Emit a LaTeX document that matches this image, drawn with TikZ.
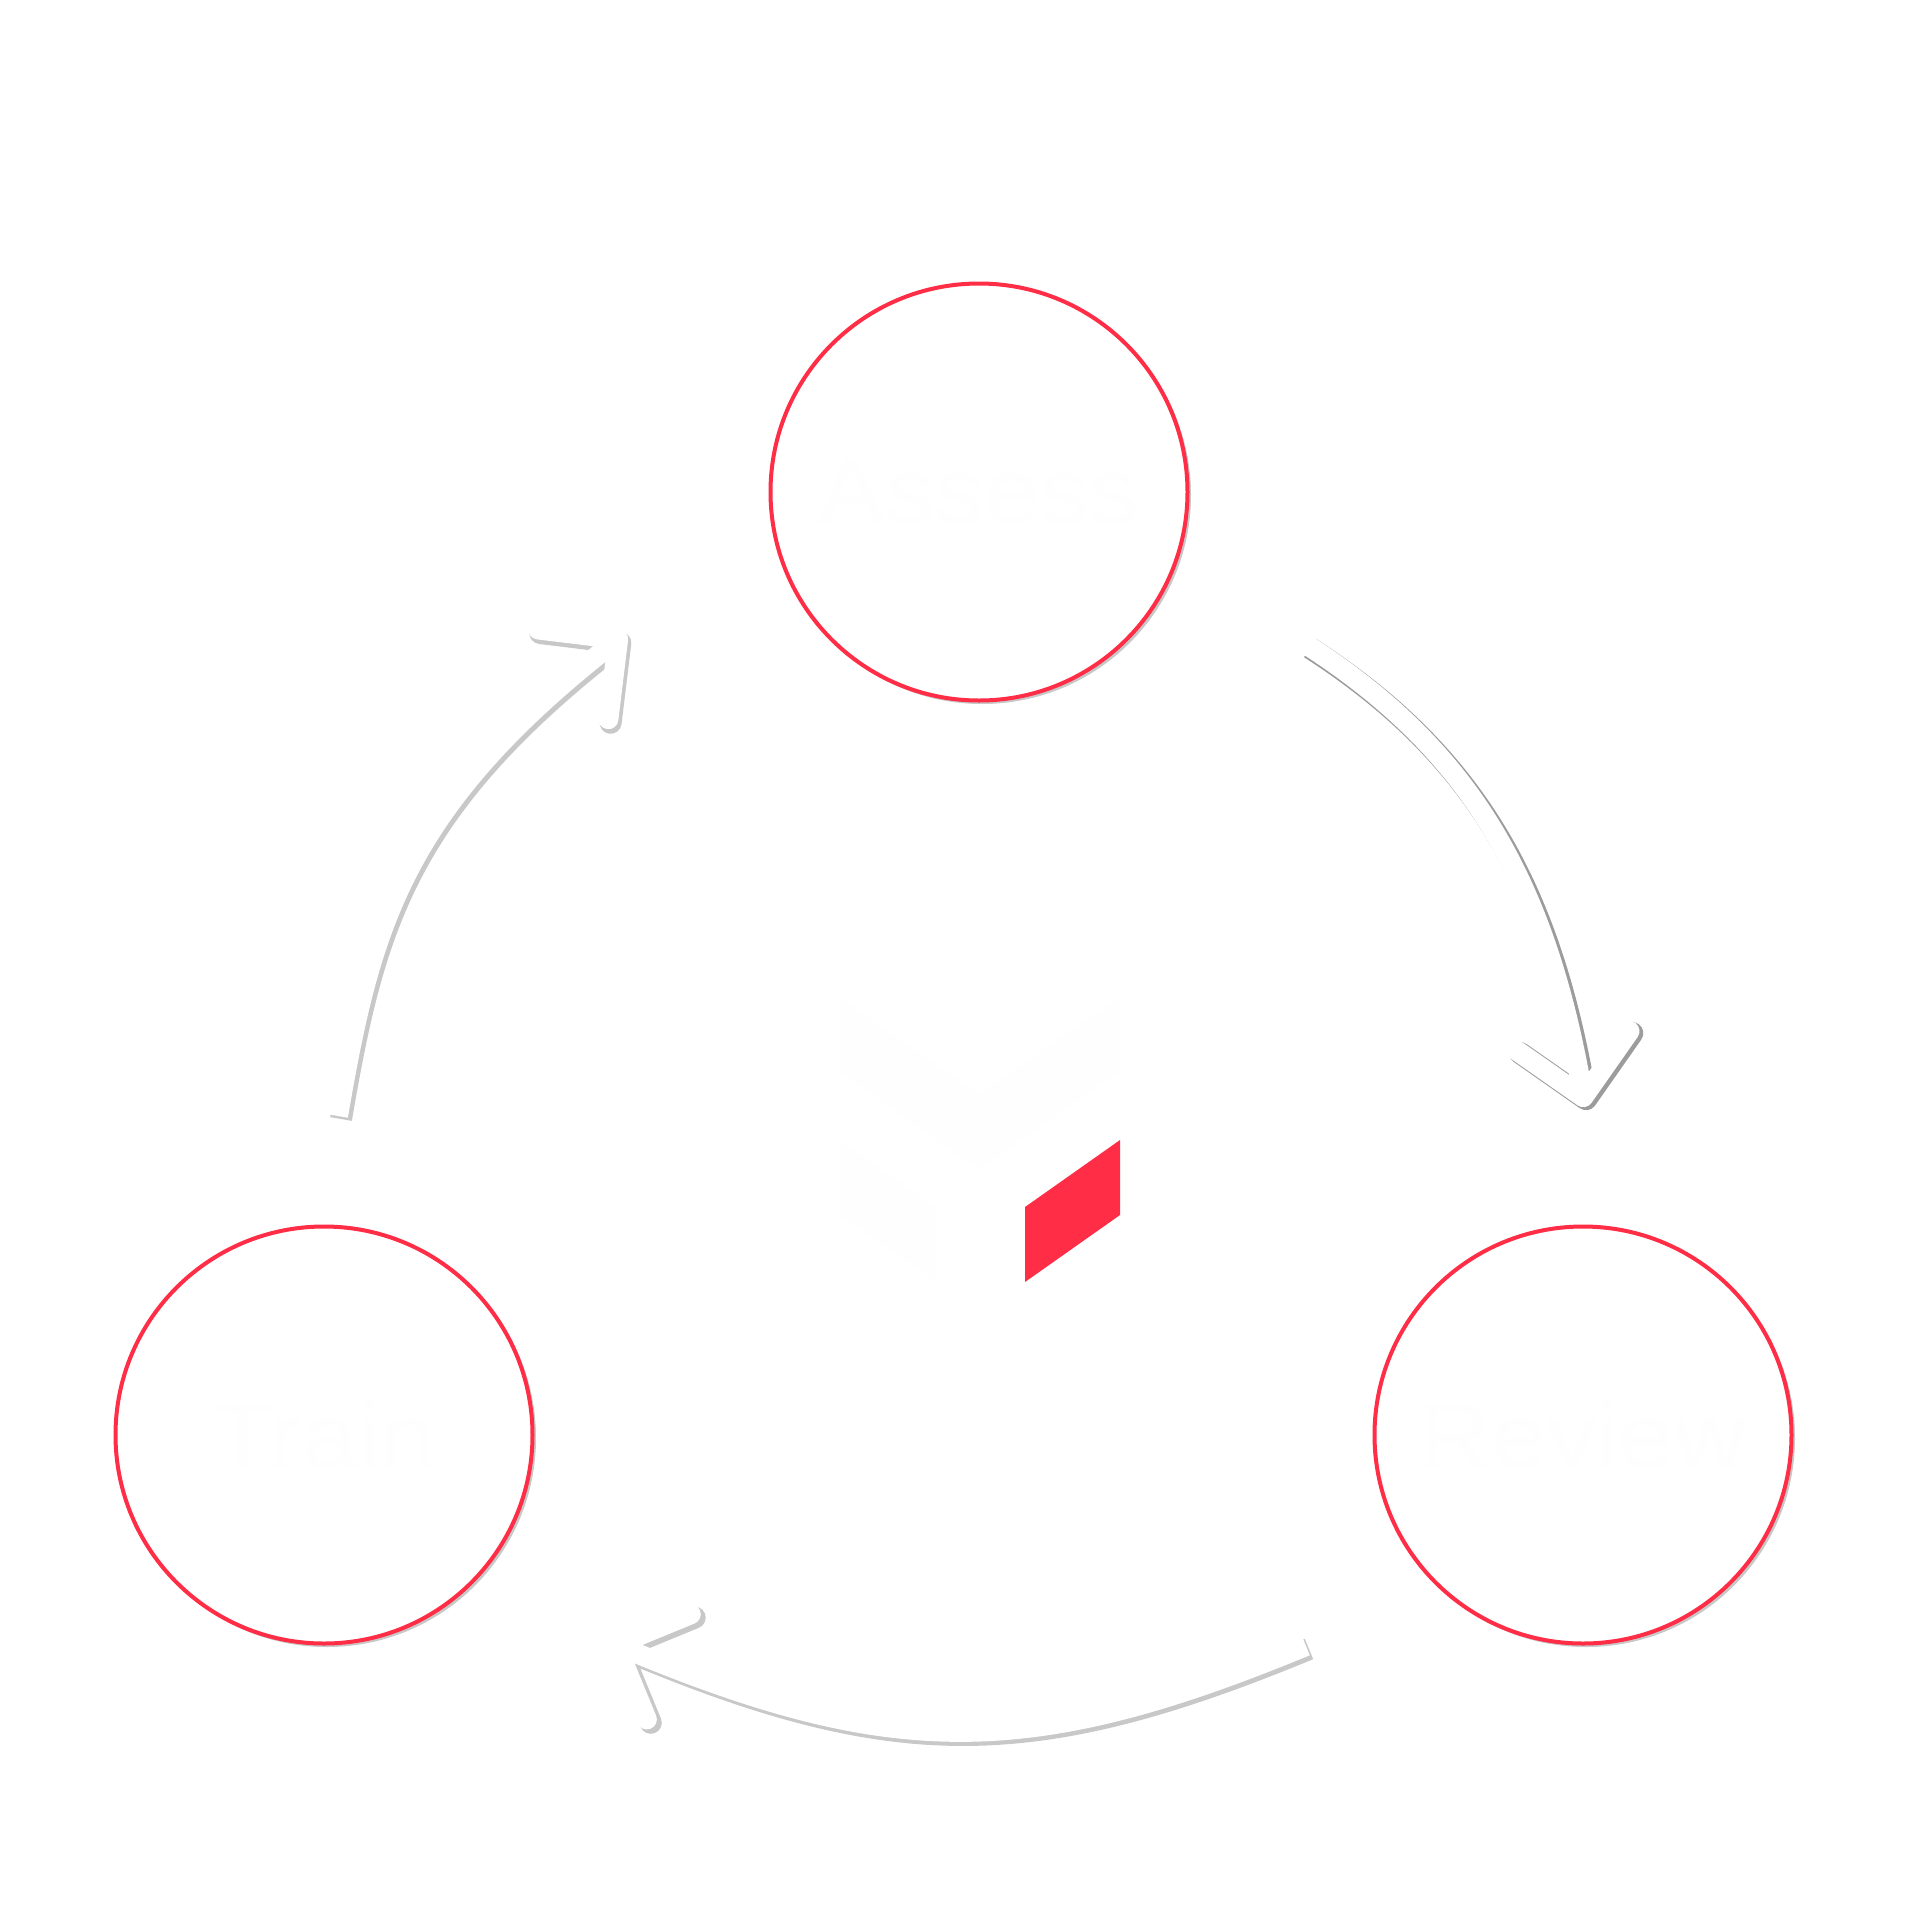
\documentclass[tikz,border=0pt]{standalone}
\usepackage{xcolor}
\usepackage{fontspec}
\newfontfamily\stagefont[FakeStretch=1.07]{Liberation Sans}
\usetikzlibrary{arrows.meta}
\usetikzlibrary{shadows}
\definecolor{stagered}{HTML}{FF2D46}
\definecolor{stagewhite}{HTML}{FEFEFE}
\definecolor{shadowgray}{HTML}{C8C8C8}
\definecolor{shadowdark}{HTML}{9C9C9C}
\tikzset{
	stage node/.style={circle,draw=stagered,fill=white,line width=4pt,minimum size=417pt,inner sep=0pt,
		text=stagewhite,font=\stagefont\fontsize{93}{93}\selectfont,
		drop shadow={shadow xshift=3pt,shadow yshift=-3pt,draw=shadowgray,fill=shadowgray,line width=1pt,opacity=1}},
	flow body/.style={draw=white,line width=20pt,-{Straight Barb[length=57pt,width=114pt,line width=20pt,round]}},
	flow shadow/.style={draw=shadowgray,line width=22pt,-{Straight Barb[length=57pt,width=114pt,line width=22pt,round]},
		transform canvas={shift={(3pt,-3pt)}}},
	flow shadow dark/.style={flow shadow,draw=shadowdark}
}

\begin{document}
\begin{tikzpicture}[x=1pt,y=-1pt]
	\useasboundingbox (0,0) rectangle (1920,1920);
	\node [stage node] (assess) at (979,492) {Assess};
	\node [stage node] (review) at (1583,1435) {Review};
	\node [stage node] (train) at (324,1435) {Train};

	\coordinate (assess out) at (1307,645);
	\coordinate (review in) at (1585,1107);
	\coordinate (review out) at (1306,1646);
	\coordinate (train in) at (607,1641);
	\coordinate (train out) at (338,1116);
	\coordinate (assess in) at (626,633);

	\draw [flow shadow dark] (assess out) .. controls (1470,750) and (1545,880) .. (review in);
	\draw [flow body] (assess out) .. controls (1470,750) and (1545,880) .. (review in);
	\draw [flow shadow] (review out) .. controls (1030,1760) and (892,1760) .. (train in);
	\draw [flow body] (review out) .. controls (1030,1760) and (892,1760) .. (train in);
	\draw [flow shadow] (train out) .. controls (370,930) and (400,810) .. (assess in);
	\draw [flow body] (train out) .. controls (370,930) and (400,810) .. (assess in);

	% cube in the middle
	\fill [stagewhite] (839,997) -- (979,1094) -- (1120,997) -- (1120,1071) -- (979,1170) -- (839,1071) -- cycle;
	\fill [stagewhite] (840,1140) -- (935,1207) -- (935,1281) -- (840,1215) -- cycle;
	\fill [stagered] (1025,1207) -- (1120,1140) -- (1120,1215) -- (1025,1282) -- cycle;
\end{tikzpicture}
\end{document}
